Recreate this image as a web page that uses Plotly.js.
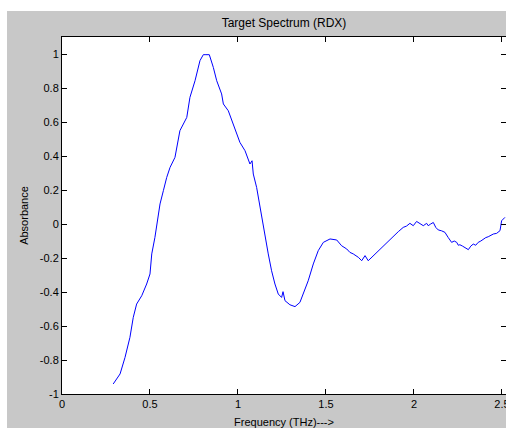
<!DOCTYPE html>
<html>
<head>
<meta charset="utf-8">
<script src="https://cdn.plot.ly/plotly-3.0.1.min.js"></script>
<style>
html,body{margin:0;padding:0;background:#ffffff;overflow:hidden;width:506px;height:428px;}
#chart{position:absolute;left:7px;top:11px;width:520px;height:417px;}
</style>
</head>
<body>
<div id="chart"></div>
<script>
// Frequency (THz)
const frequency = [0.291,0.307,0.330,0.358,0.386,0.405,0.424,0.453,0.481,0.500,0.510,0.528,0.547,0.557,0.576,0.595,0.614,0.642,0.670,0.709,0.727,0.756,0.784,0.803,0.818,0.837,0.860,0.879,0.907,0.917,0.945,0.973,1.011,1.040,1.068,1.080,1.087,1.106,1.116,1.135,1.153,1.172,1.191,1.210,1.229,1.248,1.256,1.267,1.295,1.324,1.352,1.371,1.399,1.428,1.456,1.485,1.523,1.561,1.589,1.618,1.636,1.655,1.684,1.703,1.722,1.740,1.769,1.798,1.826,1.855,1.882,1.911,1.939,1.958,1.977,1.996,2.015,2.034,2.053,2.072,2.081,2.095,2.110,2.124,2.138,2.157,2.176,2.195,2.214,2.229,2.243,2.252,2.261,2.276,2.290,2.309,2.323,2.337,2.351,2.365,2.380,2.394,2.408,2.422,2.437,2.451,2.470,2.489,2.498,2.517];
// Absorbance
const absorbance = [-0.941,-0.916,-0.882,-0.785,-0.667,-0.549,-0.471,-0.422,-0.353,-0.294,-0.176,-0.079,0.039,0.118,0.196,0.274,0.333,0.392,0.549,0.627,0.745,0.843,0.961,0.996,0.996,0.996,0.921,0.843,0.765,0.706,0.666,0.588,0.480,0.431,0.353,0.372,0.294,0.215,0.156,0.039,-0.079,-0.176,-0.275,-0.353,-0.412,-0.432,-0.398,-0.451,-0.475,-0.486,-0.461,-0.412,-0.334,-0.235,-0.157,-0.108,-0.088,-0.094,-0.128,-0.147,-0.167,-0.176,-0.196,-0.216,-0.186,-0.216,-0.186,-0.160,-0.128,-0.100,-0.069,-0.045,-0.020,-0.012,0.004,-0.010,0.015,0.002,-0.010,0.004,-0.010,0.000,0.009,-0.020,-0.035,-0.040,-0.049,-0.080,-0.108,-0.100,-0.108,-0.125,-0.122,-0.130,-0.138,-0.151,-0.130,-0.118,-0.125,-0.108,-0.100,-0.088,-0.080,-0.075,-0.065,-0.059,-0.055,-0.039,0.019,0.039];
const xTicks = [0,0.5,1,1.5,2,2.5];
const xTickText = ['0','0.5','1','1.5','2','2.5'];
const yTicks = [-1,-0.8,-0.6,-0.4,-0.2,0,0.2,0.4,0.6,0.8,1];
const yTickText = ['-1','-0.8','-0.6','-0.4','-0.2','0','0.2','0.4','0.6','0.8','1'];

const fontFam = 'Liberation Sans, Arial, sans-serif';
const trace = {
  x: frequency, y: absorbance, type: 'scatter', mode: 'lines',
  line: {color: '#0000ff', width: 1}, hoverinfo: 'skip'
};
const layout = {
  width: 520, height: 417,
  paper_bgcolor: '#c8c8c8', plot_bgcolor: '#ffffff',
  margin: {l: 55, r: 21, t: 26, b: 34},
  showlegend: false,
  font: {family: fontFam, size: 11, color: '#000000'},
  title: {text: 'Target Spectrum (RDX)', font: {family: fontFam, size: 12, color: '#000'}, x: 0.5, xanchor: 'center', y: 0.972, yanchor: 'middle', xref: 'paper'},
  xaxis: {
    range: [0, 2.523], tickvals: xTicks, ticktext: xTickText,
    ticks: 'inside', ticklen: 5, tickcolor: '#000', tickwidth: 1,
    showline: true, linecolor: '#000', linewidth: 1, mirror: 'ticks',
    showgrid: false, zeroline: false, automargin: false,
    tickfont: {family: fontFam, size: 11, color: '#000'},
    title: {text: 'Frequency (THz)--->', font: {family: fontFam, size: 11, color: '#000'}, standoff: 11}
  },
  yaxis: {
    range: [-1, 1.1], tickvals: yTicks, ticktext: yTickText,
    ticks: 'inside', ticklen: 5, tickcolor: '#000', tickwidth: 1,
    showline: true, linecolor: '#000', linewidth: 1, mirror: 'ticks',
    showgrid: false, zeroline: false, automargin: false,
    tickfont: {family: fontFam, size: 11, color: '#000'},
    title: {text: 'Absorbance', font: {family: fontFam, size: 11, color: '#000'}, standoff: 8}
  }
};
Plotly.newPlot('chart', [trace], layout, {displayModeBar: false, staticPlot: true});
</script>
</body>
</html>
